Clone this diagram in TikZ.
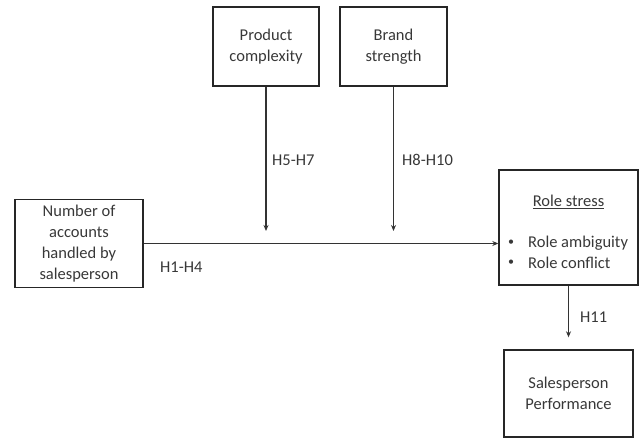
\documentclass[tikz,border=0pt]{standalone}
\usepackage{fontspec}
\setmainfont{Carlito}
\usetikzlibrary{arrows.meta,calc}
\begin{document}
\begin{tikzpicture}[x=1pt,y=-1pt,
  box/.style={draw=black!85,line width=1.4pt,align=center,text=black!78,font=\fontsize{16.5}{21}\selectfont,inner sep=0pt},
  lbl/.style={text=black!78,font=\fontsize{16.5}{21}\selectfont,inner sep=0pt},
  conn/.style={draw=black!80,line width=1.1pt,-{Stealth[length=6pt,width=5pt]}}]
\useasboundingbox (0,0) rectangle (639,441);
\node[box,minimum width=106pt,minimum height=79pt] (prod) at (266,46.5) {Product\\complexity};
\node[box,minimum width=107pt,minimum height=79pt] (brand) at (393.5,46.5) {Brand\\strength};
\node[box,minimum width=128pt,minimum height=88pt] (num) at (79,243.5) {Number of\\accounts\\handled by\\salesperson};
\node[box,minimum width=139pt,minimum height=115pt] (rs) at (568.5,227.5) {};
\node[box,minimum width=129pt,minimum height=87pt] (perf) at (568.5,393.5) {Salesperson\\Performance};
\node[lbl] (rstitle) at (568.5,202) {\underline{Role stress}};
\node[lbl,anchor=center,font=\fontsize{12}{14}\selectfont] (b1) at (511,243) {\textbullet};
\node[lbl,anchor=west] (t1) at (528,243) {Role ambiguity};
\node[lbl,anchor=center,font=\fontsize{12}{14}\selectfont] (b2) at (511,263) {\textbullet};
\node[lbl,anchor=west] (t2) at (528,263) {Role conflict};
\coordinate (c1) at (266,231);
\coordinate (c2) at (393.5,231);
\draw[conn] (num.east) -- (num.east -| rs.west);
\draw[conn] (prod.south) -- (c1);
\draw[conn] (brand.south) -- (c2);
\draw[conn] (rs.south) -- ($(perf.north)+(0,-12)$);
\node[lbl,anchor=west] (h14) at (160,267) {H1-H4};
\node[lbl,anchor=west] (h57) at (272,160) {H5-H7};
\node[lbl,anchor=west] (h810) at (402,160) {H8-H10};
\node[lbl,anchor=west] (h11) at (580,317) {H11};
\end{tikzpicture}
\end{document}
